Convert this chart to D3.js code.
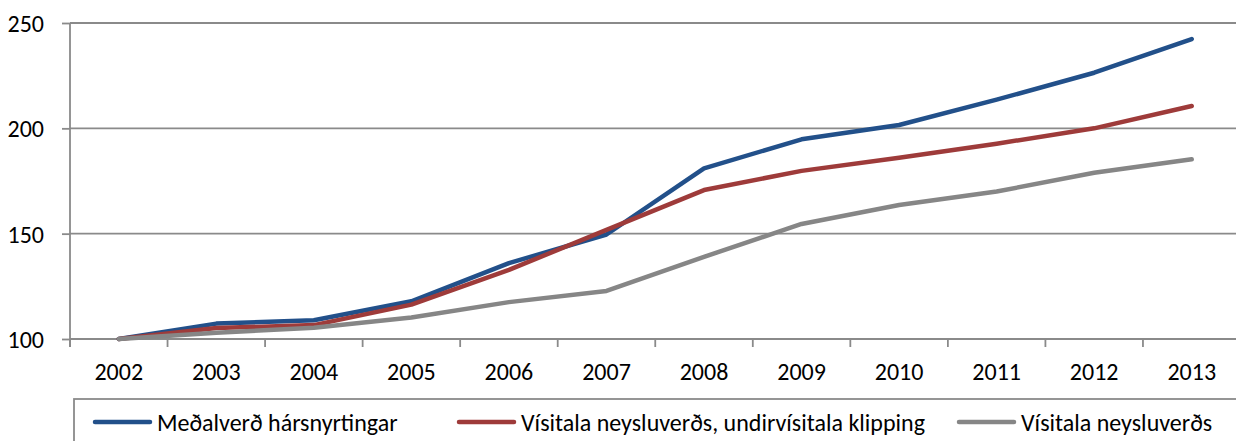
<!DOCTYPE html>
<html>
<head>
<meta charset="utf-8">
<script src="https://cdn.jsdelivr.net/npm/d3@7"></script>
<style>
  html, body { margin: 0; padding: 0; background: #fff; }
  svg { display: block; }
  text { font-family: Calibri, Carlito, Lato, "Open Sans", sans-serif; fill: #000; }
</style>
</head>
<body>
<svg id="chart" width="1236" height="441"></svg>
<script>
// ---- data ----
const years = ["2002","2003","2004","2005","2006","2007","2008","2009","2010","2011","2012","2013"];
const medalverd = [100, 107.3, 108.9, 117.9, 136.0, 149.6, 181.0, 194.8, 201.6, 213.6, 226.4, 242.4];
const klipping  = [100, 105.2, 106.6, 116.3, 132.8, 151.8, 170.7, 179.8, 186.0, 192.7, 200.0, 210.6];
const neysla    = [100, 103.0, 105.3, 110.2, 117.5, 122.8, 139.0, 154.6, 163.6, 170.0, 178.9, 185.3];
const yTicks = [100, 150, 200, 250];
const seriesNames = ["Meðalverð hársnyrtingar", "Vísitala neysluverðs, undirvísitala klipping", "Vísitala neysluverðs"];
const seriesColors = ["#22508a", "#9e3b3a", "#868686"];
const seriesValues = [medalverd, klipping, neysla];

// ---- layout ----
const W = 1236, H = 441;
const plotLeft = 70, plotRight = 1240.5, plotTop = 23, plotBottom = 339;
const axisColor = "#8a8a8a";
const fontSize = 24;

const svg = d3.select("#chart");

const x = d3.scaleBand().domain(years).range([plotLeft, plotRight]);
const y = d3.scaleLinear().domain([100, 250]).range([plotBottom, plotTop]);
const cx = d => x(d) + x.bandwidth() / 2;

// gridlines
svg.append("g").selectAll("line").data(yTicks.filter(t => t !== 100)).join("line")
  .attr("x1", plotLeft).attr("x2", W)
  .attr("y1", d => y(d)).attr("y2", d => y(d))
  .attr("stroke", axisColor).attr("stroke-width", 1.8);

// y axis
const yAxis = d3.axisLeft(y).tickValues(yTicks).tickSize(8).tickPadding(18).tickFormat(d3.format("d"));
const gy = svg.append("g").attr("transform", `translate(${plotLeft},0)`).call(yAxis);
gy.select(".domain").attr("stroke", axisColor).attr("stroke-width", 1.8).attr("d", `M0,${plotTop}V${plotBottom + 8}`);
gy.selectAll(".tick line").attr("stroke", axisColor).attr("stroke-width", 1.8);
gy.selectAll(".tick text").attr("font-size", fontSize).attr("font-family", "Calibri, Carlito, Lato, sans-serif").attr("fill", "#000").attr("dy", "0.36em");

// x axis: ticks on band boundaries
const gx = svg.append("g");
gx.append("line").attr("x1", plotLeft).attr("x2", W).attr("y1", plotBottom).attr("y2", plotBottom)
  .attr("stroke", axisColor).attr("stroke-width", 1.8);
gx.selectAll("line.tk").data(years).join("line").attr("class", "tk")
  .attr("x1", d => x(d)).attr("x2", d => x(d))
  .attr("y1", plotBottom).attr("y2", plotBottom + 8)
  .attr("stroke", axisColor).attr("stroke-width", 1.8);
gx.selectAll("text").data(years).join("text")
  .attr("x", d => cx(d)).attr("y", 380)
  .attr("text-anchor", "middle").attr("font-size", fontSize)
  .text(d => d);

// lines
const line = d3.line().x((d, i) => cx(years[i])).y(d => y(d));
svg.append("g").selectAll("path").data(seriesValues).join("path")
  .attr("d", d => line(d))
  .attr("fill", "none")
  .attr("stroke", (d, i) => seriesColors[i])
  .attr("stroke-width", 4.5)
  .attr("stroke-linejoin", "round")
  .attr("stroke-linecap", "round");

// legend
const legend = svg.append("g");
legend.append("rect").attr("x", 74).attr("y", 399).attr("width", 1300).attr("height", 80)
  .attr("fill", "none").attr("stroke", axisColor).attr("stroke-width", 1.8);
const legendX = [93, 457, 957];
const legY = 422;
const items = legend.selectAll("g.item").data(seriesNames).join("g").attr("class", "item")
  .attr("transform", (d, i) => `translate(${legendX[i]},${legY})`);
items.append("line").attr("x1", 2).attr("x2", 57).attr("y1", 0).attr("y2", 0)
  .attr("stroke", (d, i) => seriesColors[i]).attr("stroke-width", 4.5).attr("stroke-linecap", "round");
items.append("text").attr("x", 64).attr("y", 0).attr("dy", "0.36em")
  .attr("font-size", fontSize).text(d => d);
</script>
</body>
</html>
